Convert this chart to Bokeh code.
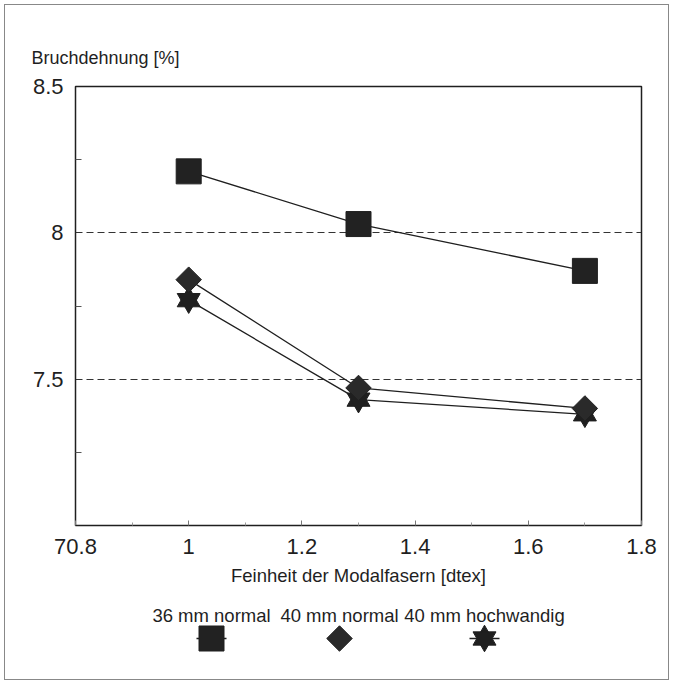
import math
from bokeh.plotting import figure
from bokeh.models import FixedTicker, Range1d, Title
from bokeh.layouts import column
from bokeh.core.properties import value
from bokeh.embed import file_html
from bokeh.resources import INLINE

# ---- data ----
x_vals = [1.0, 1.3, 1.7]
s36_normal = [8.21, 8.03, 7.87]
s40_normal = [7.84, 7.47, 7.40]
s40_hoch = [7.77, 7.43, 7.38]
series_names = ["36 mm normal", "40 mm normal", "40 mm hochwandig"]

x_ticks = [0.8, 1.0, 1.2, 1.4, 1.6, 1.8]
x_tick_labels = ["70.8", "1", "1.2", "1.4", "1.6", "1.8"]
x_minor = [0.9, 1.1, 1.3, 1.5, 1.7]
y_ticks = [7.0, 7.5, 8.0, 8.5]
y_tick_labels = ["", "7.5", "8", "8.5"]
y_minor = [7.25, 7.75, 8.25]
y_grid = [7.5, 8.0]

x_title = "Feinheit der Modalfasern [dtex]"
y_title = "Bruchdehnung [%]"

FONT = value("Liberation Sans")
INK = "#1f1f1f"

p = figure(frame_width=566, frame_height=439,
           x_range=Range1d(0.8, 1.8), y_range=Range1d(7.0, 8.5),
           output_backend="svg", toolbar_location=None,
           min_border_left=70, min_border_right=27,
           min_border_top=81, min_border_bottom=70)
p.background_fill_color = "white"
p.border_fill_color = "white"
p.outline_line_color = INK
p.outline_line_width = 1.5

p.add_layout(Title(text=y_title, align="left", offset=-44,
                   text_font="Liberation Sans", text_font_size="18px",
                   text_font_style="normal", text_color=INK, standoff=37), "above")

# x axis
xa = p.xaxis[0]
xa.ticker = FixedTicker(ticks=x_ticks, minor_ticks=x_minor)
xa.major_label_overrides = {t: l for t, l in zip(x_ticks, x_tick_labels)}
xa.axis_line_color = None
xa.major_tick_in = 5
xa.major_tick_out = 0
xa.minor_tick_in = 3
xa.minor_tick_out = 0
xa.major_tick_line_color = "#777"
xa.minor_tick_line_color = "#999"
xa.major_label_text_font = "Liberation Sans"
xa.major_label_text_font_size = "22px"
xa.major_label_text_color = INK
xa.major_label_standoff = 13
xa.axis_label = x_title
xa.axis_label_text_font = "Liberation Sans"
xa.axis_label_text_font_size = "18.5px"
xa.axis_label_text_font_style = "normal"
xa.axis_label_text_color = INK
xa.axis_label_standoff = 8

# y axis
ya = p.yaxis[0]
ya.ticker = FixedTicker(ticks=y_ticks, minor_ticks=y_minor)
ya.major_label_overrides = {t: l for t, l in zip(y_ticks, y_tick_labels)}
ya.axis_line_color = None
ya.major_tick_in = 0
ya.major_tick_out = 0
ya.minor_tick_in = 6
ya.minor_tick_out = 0
ya.minor_tick_line_color = "#555"
ya.major_label_text_font = "Liberation Sans"
ya.major_label_text_font_size = "22px"
ya.major_label_text_color = INK
ya.major_label_standoff = 12

p.xgrid.visible = False
p.ygrid.ticker = FixedTicker(ticks=y_grid)
p.ygrid.grid_line_color = "#333"
p.ygrid.grid_line_dash = "7 4"
p.ygrid.grid_line_width = 1

# series
for ys in (s36_normal, s40_normal, s40_hoch):
    p.line(x_vals, ys, line_color=INK, line_width=1.3)

p.scatter(x_vals, s40_hoch, marker="triangle", size=23, fill_color=INK, line_color=INK)
p.scatter(x_vals, s40_hoch, marker="inverted_triangle", size=23, fill_color=INK, line_color=INK)
p.scatter(x_vals, s40_normal, marker="square", angle=math.pi / 4, size=18,
          fill_color="#2a2a2a", line_color=INK)
p.scatter(x_vals, s36_normal, marker="square", size=25, fill_color="#222", line_color=INK)

# ---- legend strip (its frame is aligned with the plot frame: page x 76..642) ----
leg_h = 84
leg = figure(frame_width=566, height=leg_h, x_range=Range1d(76, 642), y_range=Range1d(0, leg_h),
             output_backend="svg", toolbar_location=None,
             x_axis_location=None, y_axis_location=None, min_border=0,
             min_border_left=70, min_border_right=27)
leg.xgrid.visible = False
leg.ygrid.visible = False
leg.outline_line_color = None
leg.background_fill_color = "white"
leg.border_fill_color = "white"

leg_x = [212, 340, 485]
leg_text_y = leg_h - 20
leg_mark_y = leg_h - 43
leg.text(x=leg_x, y=[leg_text_y] * 3, text=series_names, text_align="center",
         text_baseline="middle", text_font=FONT, text_font_size="18.5px", text_color=INK)
leg.segment(x0=[leg_x[0] - 15, leg_x[2] - 15], y0=[leg_mark_y] * 2,
            x1=[leg_x[0] + 15, leg_x[2] + 15], y1=[leg_mark_y] * 2,
            line_color=INK, line_width=1.3)
leg.scatter([leg_x[0]], [leg_mark_y], marker="square", size=25, fill_color="#222", line_color=INK)
leg.scatter([leg_x[1]], [leg_mark_y], marker="square", angle=math.pi / 4, size=18,
            fill_color="#2a2a2a", line_color=INK)
leg.scatter([leg_x[2]], [leg_mark_y], marker="triangle", size=23, fill_color=INK, line_color=INK)
leg.scatter([leg_x[2]], [leg_mark_y], marker="inverted_triangle", size=23, fill_color=INK, line_color=INK)

layout = column(p, leg, spacing=0, styles={"border": "1px solid #888", "margin": "4px"})

open("out.html", "w").write(file_html(layout, INLINE))
